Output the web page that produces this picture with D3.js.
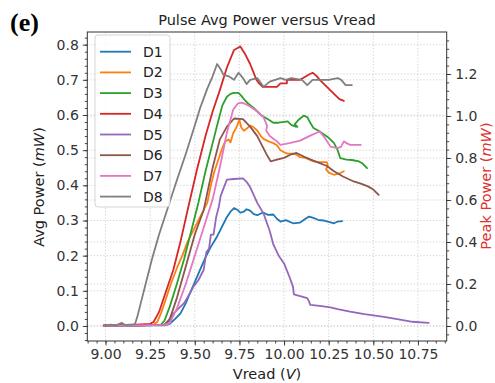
<!DOCTYPE html>
<html><head><meta charset="utf-8">
<script src="https://cdn.jsdelivr.net/npm/d3@7"></script>
<style>html,body{margin:0;padding:0;background:#fff;}svg{display:block;font-family:"DejaVu Sans",sans-serif;}</style>
</head><body><svg id="c" width="495" height="383"></svg>
<script>
const categories = ["D1","D2","D3","D4","D5","D6","D7","D8"];
const colors = ["#1f77b4","#ff7f0e","#2ca02c","#d62728","#9467bd","#8c564b","#e377c2","#7f7f7f"];
const xTicks = [9.00,9.25,9.50,9.75,10.00,10.25,10.50,10.75];
const avgTicks = [0.0,0.1,0.2,0.3,0.4,0.5,0.6,0.7,0.8];
const peakTicks = [0.0,0.2,0.4,0.6,0.8,1.0,1.2];

// [Vread (V), Avg Power (mW)]
const d1 = [[8.99,0.001],[9.05,0.002],[9.15,0.001],[9.25,0.002],[9.33,0.002],[9.36,0.006],[9.39,0.02],[9.42,0.036],[9.45,0.065],[9.47,0.09],[9.50,0.125],[9.53,0.16],[9.56,0.195],[9.59,0.225],[9.62,0.25],[9.64,0.27],[9.66,0.29],[9.68,0.31],[9.70,0.325],[9.72,0.335],[9.74,0.33],[9.755,0.322],[9.775,0.325],[9.79,0.332],[9.81,0.328],[9.83,0.318],[9.85,0.315],[9.87,0.32],[9.885,0.322],[9.91,0.316],[9.94,0.317],[9.96,0.305],[9.98,0.297],[10.01,0.301],[10.05,0.292],[10.09,0.294],[10.12,0.305],[10.14,0.311],[10.16,0.308],[10.19,0.302],[10.22,0.30],[10.25,0.296],[10.28,0.292],[10.30,0.297],[10.325,0.298]];
const d2 = [[8.99,0.001],[9.10,0.002],[9.20,0.002],[9.27,0.004],[9.29,0.012],[9.31,0.035],[9.34,0.08],[9.37,0.125],[9.40,0.165],[9.43,0.20],[9.46,0.24],[9.49,0.27],[9.52,0.30],[9.55,0.33],[9.57,0.35],[9.59,0.40],[9.61,0.44],[9.63,0.47],[9.65,0.50],[9.67,0.525],[9.69,0.53],[9.70,0.522],[9.715,0.548],[9.735,0.567],[9.75,0.586],[9.76,0.565],[9.775,0.555],[9.795,0.563],[9.81,0.57],[9.83,0.565],[9.85,0.556],[9.87,0.54],[9.885,0.532],[9.913,0.525],[9.94,0.52],[9.96,0.514],[9.98,0.50],[10.00,0.494],[10.02,0.49],[10.05,0.49],[10.07,0.487],[10.09,0.48],[10.12,0.478],[10.165,0.468],[10.20,0.466],[10.24,0.466],[10.245,0.455],[10.235,0.446],[10.25,0.436],[10.28,0.43],[10.315,0.435],[10.335,0.44]];
const d3s = [[8.99,0.001],[9.10,0.001],[9.20,0.002],[9.31,0.003],[9.33,0.015],[9.36,0.055],[9.40,0.12],[9.44,0.19],[9.48,0.27],[9.52,0.35],[9.56,0.44],[9.60,0.52],[9.63,0.58],[9.655,0.628],[9.68,0.652],[9.70,0.66],[9.72,0.663],[9.745,0.663],[9.76,0.655],[9.78,0.642],[9.80,0.632],[9.83,0.62],[9.87,0.60],[9.91,0.588],[9.94,0.578],[9.97,0.578],[10.02,0.582],[10.04,0.572],[10.065,0.567],[10.075,0.566],[10.06,0.574],[10.085,0.588],[10.11,0.598],[10.13,0.594],[10.15,0.575],[10.165,0.563],[10.20,0.553],[10.25,0.535],[10.28,0.52],[10.30,0.50],[10.315,0.477],[10.35,0.473],[10.38,0.472],[10.42,0.468],[10.44,0.462],[10.465,0.449]];
const d4 = [[8.99,0.001],[9.05,0.002],[9.15,0.003],[9.25,0.006],[9.27,0.012],[9.30,0.04],[9.34,0.10],[9.38,0.16],[9.42,0.24],[9.46,0.33],[9.51,0.44],[9.56,0.54],[9.60,0.61],[9.64,0.67],[9.68,0.735],[9.72,0.785],[9.755,0.795],[9.78,0.775],[9.81,0.745],[9.83,0.72],[9.845,0.70],[9.86,0.69],[9.88,0.68],[9.92,0.68],[9.96,0.68],[9.98,0.69],[10.016,0.69],[10.016,0.70],[10.09,0.70],[10.14,0.715],[10.16,0.72],[10.18,0.712],[10.20,0.70],[10.23,0.685],[10.26,0.67],[10.28,0.66],[10.31,0.645],[10.335,0.64]];
const d5 = [[8.99,0.001],[9.10,0.001],[9.20,0.002],[9.33,0.004],[9.36,0.015],[9.38,0.035],[9.41,0.05],[9.44,0.065],[9.47,0.09],[9.49,0.11],[9.52,0.13],[9.55,0.16],[9.565,0.21],[9.58,0.22],[9.59,0.26],[9.605,0.26],[9.62,0.31],[9.635,0.34],[9.645,0.37],[9.66,0.39],[9.68,0.416],[9.72,0.418],[9.77,0.42],[9.79,0.41],[9.81,0.395],[9.85,0.35],[9.885,0.32],[9.92,0.27],[9.94,0.232],[9.97,0.20],[10.00,0.178],[10.03,0.14],[10.05,0.112],[10.055,0.09],[10.09,0.085],[10.13,0.079],[10.14,0.07],[10.147,0.06],[10.20,0.057],[10.26,0.053],[10.30,0.048],[10.37,0.041],[10.45,0.034],[10.56,0.026],[10.65,0.018],[10.72,0.012],[10.81,0.009]];
const d6 = [[8.99,0.001],[9.10,0.002],[9.20,0.002],[9.33,0.003],[9.36,0.02],[9.40,0.08],[9.45,0.17],[9.50,0.26],[9.55,0.33],[9.60,0.45],[9.64,0.53],[9.68,0.567],[9.72,0.59],[9.77,0.588],[9.81,0.567],[9.85,0.54],[9.875,0.515],[9.90,0.49],[9.925,0.468],[9.96,0.473],[10.00,0.478],[10.035,0.487],[10.07,0.492],[10.11,0.482],[10.15,0.473],[10.20,0.463],[10.24,0.455],[10.28,0.44],[10.33,0.425],[10.39,0.411],[10.43,0.405],[10.47,0.397],[10.50,0.388],[10.53,0.373]];
const d7 = [[8.99,0.001],[9.10,0.001],[9.20,0.002],[9.33,0.003],[9.36,0.008],[9.40,0.05],[9.45,0.12],[9.50,0.20],[9.55,0.28],[9.60,0.36],[9.64,0.45],[9.68,0.55],[9.715,0.615],[9.74,0.632],[9.76,0.635],[9.78,0.632],[9.81,0.624],[9.85,0.61],[9.885,0.594],[9.905,0.57],[9.90,0.555],[9.92,0.54],[9.96,0.525],[9.98,0.515],[10.03,0.52],[10.09,0.527],[10.15,0.542],[10.20,0.553],[10.23,0.534],[10.26,0.51],[10.30,0.506],[10.32,0.51],[10.335,0.525],[10.35,0.52],[10.37,0.515],[10.43,0.515]];
const d8 = [[8.99,0.002],[9.03,0.004],[9.06,0.002],[9.09,0.009],[9.11,0.003],[9.14,0.004],[9.165,0.005],[9.18,0.03],[9.20,0.07],[9.23,0.13],[9.26,0.19],[9.30,0.26],[9.345,0.33],[9.40,0.415],[9.45,0.49],[9.50,0.57],[9.53,0.62],[9.57,0.675],[9.60,0.71],[9.625,0.745],[9.645,0.73],[9.66,0.715],[9.69,0.71],[9.72,0.70],[9.745,0.72],[9.77,0.705],[9.79,0.688],[9.81,0.70],[9.85,0.705],[9.885,0.68],[9.92,0.695],[9.98,0.705],[10.01,0.70],[10.04,0.705],[10.10,0.70],[10.13,0.685],[10.16,0.70],[10.21,0.70],[10.25,0.70],[10.30,0.705],[10.32,0.70],[10.345,0.685],[10.38,0.685]];
const seriesData = [d1,d2,d3s,d4,d5,d6,d7,d8];

const L=87.3, R=446.7, T=32, B=341;
const svg = d3.select("#c");
const x = d3.scaleLinear().domain([8.898,10.911]).range([L,R]);
const yA = d3.scaleLinear().domain([-0.0427,0.836]).range([B,T]);
const yP = d3.scaleLinear().domain([-0.0715,1.40]).range([B,T]);

// grid
const grid = svg.append("g").attr("stroke","#c4c4c4").attr("stroke-width",0.8).attr("stroke-dasharray","1.2,2");
grid.selectAll(".gx").data(xTicks).join("line").attr("x1",d=>x(d)).attr("x2",d=>x(d)).attr("y1",T).attr("y2",B);
grid.selectAll(".ga").data(avgTicks).join("line").attr("x1",L).attr("x2",R).attr("y1",d=>yA(d)).attr("y2",d=>yA(d));
grid.selectAll(".gp").data(peakTicks).join("line").attr("x1",L).attr("x2",R).attr("y1",d=>yP(d)).attr("y2",d=>yP(d));

// lines
const line = d3.line().x(d=>x(d[0])).y(d=>yA(d[1]));
svg.append("g").selectAll("path").data(seriesData).join("path")
  .attr("d",line).attr("fill","none").attr("stroke",(d,i)=>colors[i])
  .attr("stroke-width",1.8).attr("stroke-linejoin","round").attr("stroke-linecap","round");

// minor tick values
const xMinor = d3.range(8.90,10.91,0.05).filter(v=>v>=8.898&&v<=10.911);
const aMinor = d3.range(-0.04,0.836,0.02);
const pMinor = d3.range(-0.04,1.40,0.04);

function styleAxis(g){ g.select(".domain").remove(); g.selectAll("line").attr("stroke","#333").attr("stroke-width",0.9); g.selectAll("text").attr("fill","#333").style("font-family","DejaVu Sans").style("font-size","14px"); }

svg.append("g").attr("transform",`translate(0,${B})`).call(d3.axisBottom(x).tickValues(xMinor).tickSize(2.5).tickFormat("")).call(styleAxis);
svg.append("g").attr("transform",`translate(0,${B})`).call(d3.axisBottom(x).tickValues(xTicks).tickSize(4.5).tickPadding(4).tickFormat(d3.format(".2f"))).call(styleAxis);
svg.append("g").attr("transform",`translate(${L},0)`).call(d3.axisLeft(yA).tickValues(aMinor).tickSize(2.5).tickFormat("")).call(styleAxis);
svg.append("g").attr("transform",`translate(${L},0)`).call(d3.axisLeft(yA).tickValues(avgTicks).tickSize(4.5).tickPadding(4).tickFormat(d3.format(".1f"))).call(styleAxis);
svg.append("g").attr("transform",`translate(${R},0)`).call(d3.axisRight(yP).tickValues(pMinor).tickSize(2.5).tickFormat("")).call(styleAxis);
svg.append("g").attr("transform",`translate(${R},0)`).call(d3.axisRight(yP).tickValues(peakTicks).tickSize(4.5).tickPadding(4).tickFormat(d3.format(".1f"))).call(styleAxis);

// frame
svg.append("rect").attr("x",L).attr("y",T).attr("width",R-L).attr("height",B-T).attr("fill","none").attr("stroke","#333").attr("stroke-width",1);

// legend
const lg = svg.append("g");
lg.append("rect").attr("x",95).attr("y",35).attr("width",75).attr("height",172).attr("rx",3)
  .attr("fill","#fff").attr("fill-opacity",0.8).attr("stroke","#d0d0d0").attr("stroke-width",0.9);
const items = lg.selectAll("g.it").data(categories).join("g").attr("transform",(d,i)=>`translate(0,${51.7+i*20.7})`);
items.append("line").attr("x1",100).attr("x2",131).attr("stroke",(d,i)=>colors[i]).attr("stroke-width",1.8);
items.append("text").attr("x",143).attr("dy","0.36em").text(d=>d).attr("fill","#222").style("font-size","14px");

// titles
svg.append("text").attr("x",(L+R)/2).attr("y",24.5).attr("text-anchor","middle").style("font-size","14.5px").attr("fill","#222").text("Pulse Avg Power versus Vread");
svg.append("text").attr("x",10).attr("y",31).style("font-family","Liberation Serif").style("font-weight","bold").style("font-size","26px").attr("fill","#000").text("(e)");
const xl = svg.append("text").attr("x",(L+R)/2).attr("y",379).attr("text-anchor","middle").style("font-size","14.5px").attr("fill","#222");
xl.append("tspan").text("Vread (");xl.append("tspan").style("font-style","italic").text("V");xl.append("tspan").text(")");
const yl = svg.append("text").attr("transform","translate(43.5,187) rotate(-90)").attr("text-anchor","middle").style("font-size","14.5px").attr("fill","#222");
yl.append("tspan").text("Avg Power (");yl.append("tspan").style("font-style","italic").text("mW");yl.append("tspan").text(")");
const yr = svg.append("text").attr("transform","translate(491,186) rotate(-90)").attr("text-anchor","middle").style("font-size","14.5px").attr("fill","#e03030");
yr.append("tspan").text("Peak Power (");yr.append("tspan").style("font-style","italic").text("mW");yr.append("tspan").text(")");
</script></body></html>
